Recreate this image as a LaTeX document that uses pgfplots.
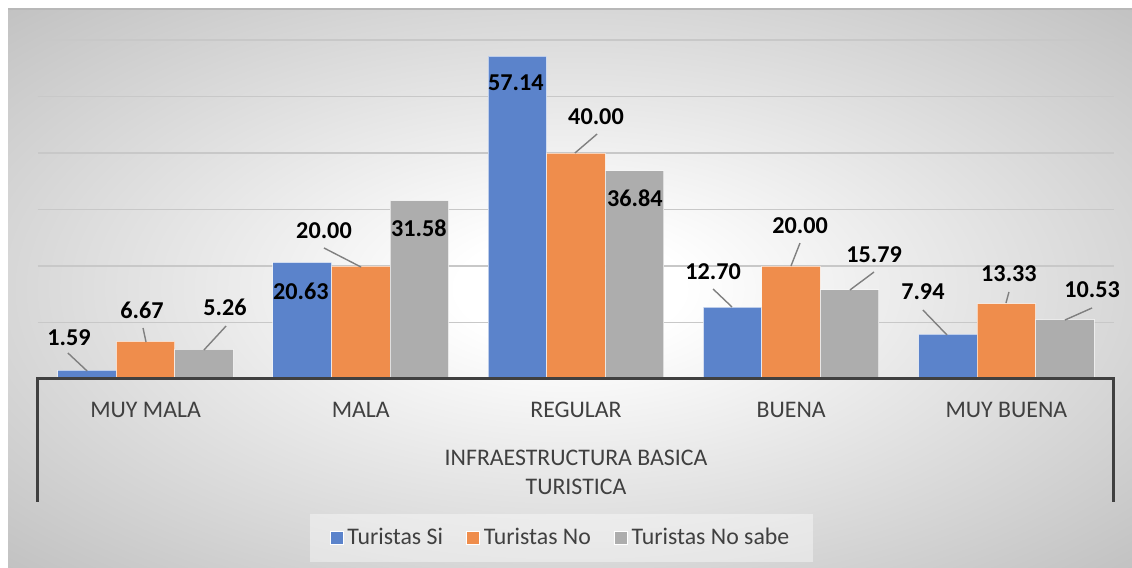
\documentclass[border=0pt]{standalone}
\usepackage{pgfplots}
\usepackage{pgfplotstable}
\pgfplotsset{compat=1.18}
\usepackage{fontspec}
\setmainfont{Carlito}
\definecolor{cblue}{RGB}{91,131,203}
\definecolor{corange}{RGB}{239,141,76}
\definecolor{cgray}{RGB}{173,173,173}
\definecolor{txt}{RGB}{64,64,64}
\definecolor{axln}{RGB}{64,64,64}
\definecolor{bgout}{RGB}{194,194,194}
\definecolor{gridc}{RGB}{200,200,200}
\definecolor{ldr}{RGB}{128,128,128}
\pgfdeclareradialshading{chartbg}{\pgfpoint{0bp}{0bp}}{color(0bp)=(white); color(5bp)=(white); color(35.4bp)=(bgout); color(50bp)=(bgout)}

\pgfplotstableread{
x y
0 1.59
1 20.63
2 57.14
3 12.70
4 7.94
}\tsi
\pgfplotstableread{
x y
0 6.67
1 20.00
2 40.00
3 20.00
4 13.33
}\tno
\pgfplotstableread{
x y
0 5.26
1 31.58
2 36.84
3 15.79
4 10.53
}\tns

\pgfplotsset{
  sqlegend/.style={legend image code/.code={\draw[##1,draw=white,line width=0.4pt,fill opacity=1,draw opacity=1] (0pt,-3.25pt) rectangle (6.5pt,3.25pt);}},
  mybar/.style={ybar, bar width=0.272, draw=white, draw opacity=0.6, line width=0.5pt, sqlegend},
}

\begin{document}
\begin{tikzpicture}
\useasboundingbox (0pt,0pt) rectangle (566pt,284pt);
\fill[white] (0pt,0pt) rectangle (566pt,284pt);
\shade[shading=chartbg] (4pt,0pt) rectangle (566pt,279.5pt);
\draw[color=bgout!95!black, line width=0.6pt] (4pt,279.5pt) -- (566pt,279.5pt);
\begin{axis}[
  at={(19pt,94.5pt)}, anchor=south west,
  scale only axis, width=538pt, height=169.5pt,
  xmin=-0.5, xmax=4.5, ymin=0, ymax=60,
  clip=false,
  axis line style={draw=none},
  major tick length=0pt,
  ytick={10,20,...,60}, yticklabels={},
  ymajorgrids, grid style={color=gridc, line width=0.7pt},
  xtick={0,1,2,3,4},
  xticklabels={MUY MALA, MALA, REGULAR, BUENA, MUY BUENA},
  xticklabel style={font=\fontsize{11.9}{14}\selectfont, text=txt, anchor=center, yshift=-15.5pt},
  legend style={at={(0.4865,-0.469)}, anchor=center, legend columns=3, draw=none,
    fill=white, fill opacity=0.4, text opacity=1, inner xsep=10pt, inner ysep=5pt,
    font=\fontsize{11.9}{13}\selectfont, text=txt,
    /tikz/every even column/.append style={column sep=9.5pt}},
  legend cell align=left,
]
\addplot[mybar, fill=cblue, bar shift=-0.272] table[x=x,y=y] {\tsi};
\addlegendentry{Turistas Si}
\addplot[mybar, fill=corange, bar shift=0] table[x=x,y=y] {\tno};
\addlegendentry{Turistas No}
\addplot[mybar, fill=cgray, bar shift=0.272] table[x=x,y=y] {\tns};
\addlegendentry{Turistas No sabe}

% axis line and category separators
\draw[axln, line width=1.5pt] ([yshift=-61.5pt]axis cs:-0.5,0) -- (axis cs:-0.5,0) -- (axis cs:4.5,0) -- ([yshift=-61.5pt]axis cs:4.5,0);
\node[font=\fontsize{11.9}{14.5}\selectfont, text=txt, align=center, anchor=center, yshift=-46.75pt] at (axis cs:2,0) {INFRAESTRUCTURA BASICA\\TURISTICA};

% leader lines
\draw[ldr, line width=0.7pt] (axis cs:-0.361,4.60) -- (axis cs:-0.272,1.42);
\draw[ldr, line width=0.7pt] (axis cs:-0.012,9.03) -- (axis cs:0.002,6.55);
\draw[ldr, line width=0.7pt] (axis cs:0.374,9.38) -- (axis cs:0.271,5.13);
\draw[ldr, line width=0.7pt] (axis cs:0.829,23.19) -- (axis cs:1.001,19.82);
\draw[ldr, line width=0.7pt] (axis cs:2.098,43.36) -- (axis cs:1.995,40.0);
\draw[ldr, line width=0.7pt] (axis cs:2.637,15.93) -- (axis cs:2.725,12.74);
\draw[ldr, line width=0.7pt] (axis cs:3.041,24.07) -- (axis cs:2.999,20.0);
\draw[ldr, line width=0.7pt] (axis cs:3.385,18.94) -- (axis cs:3.273,15.75);
\draw[ldr, line width=0.7pt] (axis cs:3.612,12.21) -- (axis cs:3.724,7.79);
\draw[ldr, line width=0.7pt] (axis cs:4.012,15.40) -- (axis cs:3.998,13.45);
\draw[ldr, line width=0.7pt] (axis cs:4.398,12.57) -- (axis cs:4.272,10.44);

% data labels
\tikzset{lab/.style={font=\fontsize{12.1}{14}\selectfont\bfseries, text=black, anchor=center, inner sep=0pt}}
\node[lab] at (axis cs:-0.356,7.26) {1.59};
\node[lab] at (axis cs:-0.017,12.21) {6.67};
\node[lab] at (axis cs:0.369,12.74) {5.26};
\node[lab] at (axis cs:0.722,15.58) {20.63};
\node[lab] at (axis cs:0.829,26.19) {20.00};
\node[lab] at (axis cs:1.270,26.73) {31.58};
\node[lab] at (axis cs:1.721,52.39) {57.14};
\node[lab] at (axis cs:2.093,46.37) {40.00};
\node[lab] at (axis cs:2.274,32.04) {36.84};
\node[lab] at (axis cs:2.637,18.94) {12.70};
\node[lab] at (axis cs:3.041,27.08) {20.00};
\node[lab] at (axis cs:3.385,21.95) {15.79};
\node[lab] at (axis cs:3.612,15.40) {7.94};
\node[lab] at (axis cs:4.012,18.58) {13.33};
\node[lab] at (axis cs:4.398,15.75) {10.53};
\end{axis}
\end{tikzpicture}
\end{document}
